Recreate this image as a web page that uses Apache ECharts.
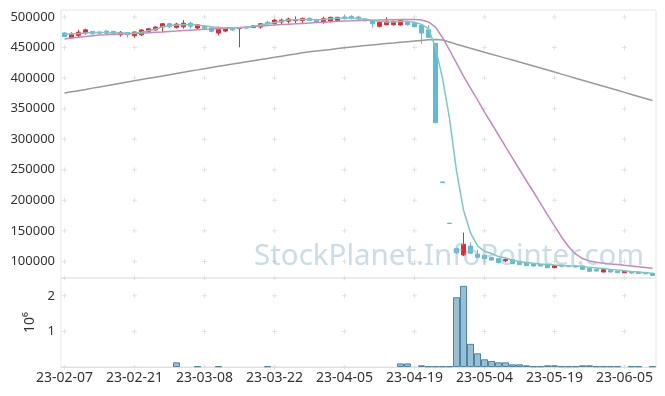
<!DOCTYPE html>
<html><head><meta charset="utf-8">
<script src="https://cdn.jsdelivr.net/npm/echarts@6/dist/echarts.min.js"></script>
<style>html,body{margin:0;padding:0;background:#fff}#c{width:665px;height:396px}</style>
</head><body><div id="c"></div>
<script>
const dates = ['23-02-07','23-02-08','23-02-09','23-02-10','23-02-13','23-02-14','23-02-15','23-02-16','23-02-17','23-02-20',
'23-02-21','23-02-22','23-02-23','23-02-24','23-02-27','23-02-28','23-03-02','23-03-03','23-03-06','23-03-07',
'23-03-08','23-03-09','23-03-10','23-03-13','23-03-14','23-03-15','23-03-16','23-03-17','23-03-20','23-03-21',
'23-03-22','23-03-23','23-03-24','23-03-27','23-03-28','23-03-29','23-03-30','23-03-31','23-04-03','23-04-04',
'23-04-05','23-04-06','23-04-07','23-04-10','23-04-11','23-04-12','23-04-13','23-04-14','23-04-17','23-04-18',
'23-04-19','23-04-20','23-04-21','23-04-24','23-04-25','23-04-26','23-04-27','23-04-28','23-05-02','23-05-03',
'23-05-04','23-05-08','23-05-09','23-05-10','23-05-11','23-05-12','23-05-15','23-05-16','23-05-17','23-05-18',
'23-05-19','23-05-22','23-05-23','23-05-24','23-05-25','23-05-26','23-05-30','23-05-31','23-06-01','23-06-02',
'23-06-05','23-06-07','23-06-08','23-06-09','23-06-12'];

const opens = [474000,466000,470000,474000,476500,475500,477000,476500,471000,474700,
469500,471000,476500,478700,483600,489000,483100,484100,489800,482000,
484800,482000,473800,477000,481000,481000,482500,483000,483600,491300,
489600,491800,493000,494000,494300,497800,495600,491300,493000,494300,
500000,501000,500000,496700,494600,484800,487400,487400,487000,491000,
490000,486400,479000,457000,230000,162500,121000,110500,125000,112000,
110000,106000,104400,101000,103000,100000,97300,95700,94600,94100,
89700,93600,93000,92500,92500,88700,86600,82600,85400,83800,
81500,83100,82600,82000,80500];

const closes = [468000,471000,475000,479000,472700,473300,473300,473300,475000,471000,
475500,478700,480800,483600,489000,484100,488500,489800,485000,487400,
482000,476600,482000,482000,479000,482000,482000,485700,489000,489000,
495000,495000,496700,495500,497800,494300,491800,497200,499500,499500,
497500,497800,496700,494600,489000,491300,493000,493000,495000,487400,
484500,473800,466800,327000,229000,162000,114000,128000,113500,106700,
104400,102300,97800,103000,96300,95000,93000,92500,92500,89700,
93000,91900,91900,90800,87000,83800,84300,86400,82600,81500,
83800,80900,80300,79800,77000];

const lows = [467000,465000,467000,471000,471000,472500,472000,470000,468000,466000,
466000,469000,475000,478000,475000,482000,481000,481000,481000,480500,
479000,475000,470000,475000,477000,450500,481000,482000,481000,485300,
487000,488500,489500,490000,489000,493000,490000,489000,491000,493000,
496000,496000,495500,493000,483000,483000,486500,486000,486000,486000,
483000,456000,465600,327000,229000,162000,112000,108500,112000,106000,
103500,101500,97000,98500,95500,94000,92500,91500,92000,89000,
89000,91000,91000,90000,86500,83000,83500,82000,82000,81000,
81000,80000,79800,79000,76500];

const highs = [475000,475000,479000,481000,477000,476000,478000,477000,477000,475000,
476000,480000,482000,485000,489500,490000,490500,495000,492000,488500,
487000,483000,484600,483000,483000,483000,484000,487000,490000,494000,
497000,497500,499000,501000,499000,499500,497000,500500,500500,500500,
504000,503000,502000,498000,495000,492000,499500,494000,496000,494000,
491000,488000,487000,457000,230000,162500,123000,147000,131000,119000,
111000,107000,105000,105000,103500,100500,98000,96000,95000,94500,
93500,94000,93500,93000,93000,89000,87000,86800,86000,84300,
84200,83500,83000,82500,81000];

const ma5 = [472000,472500,473000,474000,474500,474800,474500,474000,473800,473500,
473800,475000,477500,480000,484000,486000,487000,487500,487500,487000,
485500,484000,483000,482500,482000,482500,483000,485000,487000,489000,
491000,493000,495000,495500,496000,496000,495500,495800,497000,498000,
498500,498500,497500,496500,494500,493000,492000,492000,493000,492500,
491500,488000,481000,450000,400000,334000,248000,184000,146500,125300,
116600,112800,108000,105400,102300,99500,98200,96900,95700,94700,
93900,93300,92800,92500,91500,90200,89200,88200,86900,85800,
84800,83600,82500,81500,80500];

const ma20 = [464000,465500,466800,468000,469300,470500,471000,471600,472100,472600,
473000,473600,474300,475000,475600,476300,477000,477800,478500,479200,
479900,480400,481000,481600,482200,482800,483600,484400,485300,486100,
486900,487600,488300,488900,489600,490200,490900,491500,492200,492900,
493500,493800,494200,494500,494800,495100,495400,495700,495900,496000,
495900,495100,492000,483500,466500,446000,424700,403400,383800,364200,
344500,325700,306900,288000,269200,250400,231600,213600,194800,176000,
158000,140000,124400,112100,104700,100600,98500,96800,95700,94900,
93600,92500,91300,90000,88700];

const ma60 = [375500,377500,379500,381500,383600,385600,387600,389600,391600,393600,
395600,397600,399600,401600,403600,405600,407600,409600,411600,413500,
415500,417400,419300,421200,423000,424900,426700,428500,430300,432200,
434000,435900,437700,439500,441400,443200,444500,445800,447000,448300,
449600,450800,452000,453200,454400,455500,456600,457600,458700,459700,
460700,461700,462700,463200,462400,459000,455500,452200,448900,445700,
442400,439200,436000,432700,429600,426300,423100,419800,416500,413200,
409900,406500,403300,399900,396600,393200,389900,386600,383300,380000,
376700,373300,370000,366600,363300];

const volumes = [0,0,0,0,0,0,0,0,0,0,
0,0,0,0,0,0,130000,0,0,20000,
0,0,20000,0,0,0,0,0,0,20000,
0,0,0,0,0,0,0,0,0,0,
0,0,0,0,0,0,0,0,100000,100000,
0,48000,20000,20000,20000,20000,1960000,2280000,650000,385000,
216000,170000,131000,131000,75000,75000,47000,20000,20000,47000,
47000,20000,20000,20000,47000,47000,20000,20000,20000,20000,
0,20000,20000,0,20000];

const priceTicks = [100000,150000,200000,250000,300000,350000,400000,450000,500000];
const volTicks = [1000000,2000000];
const volCrossTicks = [0,1000000,2000000,2500000];
const labelStep = 10;
const watermark = 'StockPlanet.InfoPointer.com';

const UP = '#e8282f', DOWN = '#5cbcd6';
const crossDates = dates.filter((d,i)=>i%labelStep===0);
const priceCross = [], volCross = [];
crossDates.forEach(d=>{priceTicks.forEach(v=>priceCross.push([d,v])); volCrossTicks.forEach(v=>volCross.push([d,v]));});
const plus = 'path://M2,0H3V2H5V3H3V5H2V3H0V2H2Z';

const chart = echarts.init(document.getElementById('c'), null, {renderer:'canvas'});
chart.setOption({
  animation:false,
  textStyle:{fontFamily:'Noto Sans'},
  grid:[
    {left:61,right:9,top:10,height:268,show:true,borderColor:'#e6e6e6',borderWidth:1},
    {left:61,right:9,top:278,height:89,show:true,borderColor:'#e6e6e6',borderWidth:1}
  ],
  xAxis:[
    {gridIndex:0,type:'category',data:dates,boundaryGap:true,axisLine:{show:false},axisTick:{show:false},axisLabel:{show:false},splitLine:{show:false}},
    {gridIndex:1,type:'category',data:dates,boundaryGap:true,axisLine:{show:true,lineStyle:{color:'#e0e0e0'}},axisTick:{show:false},
     axisLabel:{interval:labelStep-1,color:'#333',fontSize:14,margin:4,fontFamily:'Noto Sans'},splitLine:{show:false}}
  ],
  yAxis:[
    {gridIndex:0,type:'value',min:72800,max:511500,axisLine:{show:false},axisTick:{show:false,customValues:priceTicks},splitLine:{show:false},
     axisLabel:{customValues:priceTicks,formatter:v=>String(v),color:'#333',fontSize:13,margin:6,fontFamily:'Noto Sans'}},
    {gridIndex:1,type:'value',min:0,max:2500000,axisLine:{show:false},axisTick:{show:false,customValues:volTicks},splitLine:{show:false},
     axisLabel:{customValues:volTicks,formatter:v=>String(v/1000000),color:'#333',fontSize:13,margin:6,fontFamily:'Noto Sans'},
     name:'10\u2076',nameLocation:'middle',nameRotate:90,nameGap:24,nameTextStyle:{color:'#333',fontSize:14,fontFamily:'Noto Sans'}}
  ],
  graphic:[{type:'text',z:100,silent:true,style:{text:watermark,x:449,y:257,align:'center',verticalAlign:'middle',
     font:'29.5px "Noto Sans"',fill:'rgba(150,185,205,0.5)'}}],
  series:[
    {type:'scatter',xAxisIndex:0,yAxisIndex:0,data:priceCross,symbol:plus,symbolSize:5,itemStyle:{color:'#dcdcdc'},silent:true,z:0},
    {type:'scatter',xAxisIndex:1,yAxisIndex:1,data:volCross,symbol:plus,symbolSize:5,itemStyle:{color:'#dcdcdc'},silent:true,z:0},
    {type:'candlestick',xAxisIndex:0,yAxisIndex:0,barWidth:5,
     data:dates.map((d,i)=>[opens[i],closes[i],lows[i],highs[i]]),
     itemStyle:{color:UP,color0:DOWN,borderColor:UP,borderColor0:DOWN,borderWidth:1}},
    {type:'line',xAxisIndex:0,yAxisIndex:0,data:ma60,symbol:'none',lineStyle:{color:'#999999',width:1.5}},
    {type:'line',xAxisIndex:0,yAxisIndex:0,data:ma20,symbol:'none',lineStyle:{color:'#c887c3',width:1.5}},
    {type:'line',xAxisIndex:0,yAxisIndex:0,data:ma5,symbol:'none',lineStyle:{color:'#7dc9bd',width:1.5}},
    {type:'bar',xAxisIndex:1,yAxisIndex:1,data:volumes.map(v=>v>0?v:'-'),barWidth:'100%',
     itemStyle:{color:'rgba(120,170,195,0.75)',borderColor:'#4a86a3',borderWidth:1}}
  ]
});
</script></body></html>
